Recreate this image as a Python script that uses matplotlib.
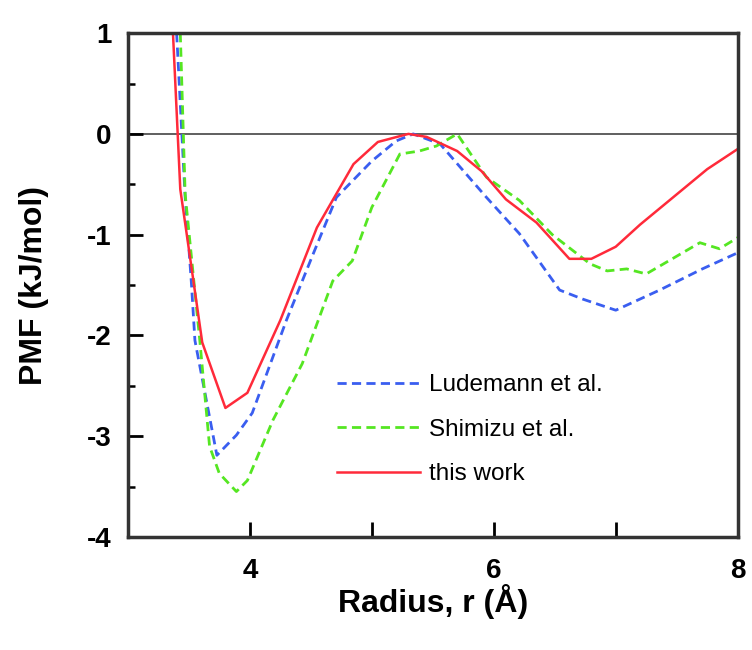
import matplotlib
matplotlib.use("Agg")
import matplotlib.pyplot as plt
from matplotlib.ticker import MultipleLocator, FixedLocator

plt.rcParams['font.family'] = ['Liberation Sans', 'DejaVu Sans']
plt.rcParams['axes.unicode_minus'] = False

# Ludemann et al.
lud_r = [3.40, 3.47, 3.52, 3.55, 3.73, 3.89, 4.02, 4.30, 4.52, 4.71, 5.00, 5.20, 5.34,
         5.56, 5.94, 6.21, 6.54, 6.73, 7.00, 7.36, 7.71, 8.00]
lud_pmf = [1.0, -0.63, -1.46, -2.05, -3.19, -2.99, -2.77, -1.85, -1.19, -0.63, -0.27, -0.07, 0.0,
           -0.10, -0.63, -0.99, -1.55, -1.64, -1.75, -1.55, -1.34, -1.18]

# Shimizu et al.
shi_r = [3.43, 3.47, 3.59, 3.67, 3.75, 3.89, 3.98, 4.19, 4.43, 4.68, 4.84, 5.00, 5.23,
         5.39, 5.53, 5.70, 5.94, 6.21, 6.48, 6.79, 6.93, 7.09, 7.25, 7.69, 7.85, 8.00]
shi_pmf = [1.0, -0.60, -2.05, -3.10, -3.37, -3.55, -3.44, -2.84, -2.28, -1.46, -1.26, -0.73, -0.20,
           -0.17, -0.12, 0.0, -0.43, -0.66, -1.00, -1.29, -1.36, -1.34, -1.39, -1.08, -1.14, -1.03]

# this work
tw_r = [3.37, 3.43, 3.61, 3.80, 3.98, 4.25, 4.55, 4.85, 5.05, 5.30, 5.45, 5.70, 5.90,
        6.10, 6.35, 6.62, 6.80, 7.00, 7.20, 7.45, 7.75, 8.00]
tw_pmf = [1.0, -0.55, -2.07, -2.72, -2.57, -1.85, -0.93, -0.30, -0.08, 0.0, -0.03, -0.17, -0.37,
          -0.65, -0.88, -1.24, -1.24, -1.12, -0.90, -0.65, -0.35, -0.15]

labels = ["Ludemann et al.", "Shimizu et al.", "this work"]

fig = plt.figure(figsize=(7.52, 6.5), dpi=100)
ax = fig.add_axes([0.170, 0.174, 0.811, 0.775])

ax.axhline(0, color='#444444', lw=1.2, zorder=1)
ax.plot(lud_r, lud_pmf, color='#3a5ef0', lw=2, dashes=(3.3, 1.9), label=labels[0])
ax.plot(shi_r, shi_pmf, color='#55e622', lw=2, dashes=(3.3, 1.9), label=labels[1])
ax.plot(tw_r, tw_pmf, color='#ff2a3a', lw=1.8, label=labels[2])

ax.set_xlim(3, 8)
ax.set_ylim(-4, 1)
ax.xaxis.set_major_locator(FixedLocator([4, 6, 8]))
ax.xaxis.set_minor_locator(FixedLocator([5, 7]))
ax.yaxis.set_major_locator(MultipleLocator(1))
ax.yaxis.set_minor_locator(MultipleLocator(0.5))
ax.tick_params(which='major', direction='in', length=11, width=2, labelsize=20)
ax.tick_params(axis='y', which='major', pad=12)
ax.tick_params(axis='x', which='major', pad=15)
ax.tick_params(which='minor', direction='in', length=5, width=1.8)
ax.tick_params(axis='x', which='minor', length=11, width=2)
for lab in ax.get_xticklabels() + ax.get_yticklabels():
    lab.set_fontweight('bold')
for s in ax.spines.values():
    s.set_linewidth(2.5)
    s.set_color('#333333')

ax.set_xlabel("Radius, r (Å)", fontsize=23, fontweight='bold', labelpad=0)
ax.set_ylabel("PMF (kJ/mol)", fontsize=23, fontweight='bold', labelpad=27)

ax.legend(loc='upper left', bbox_to_anchor=(337 / 752, 1 - 374 / 650),
          bbox_transform=fig.transFigure, frameon=False, fontsize=17.5,
          borderpad=0, borderaxespad=0,
          handlelength=3.4, handletextpad=0.4, labelspacing=0.93)

fig.savefig("out.png", dpi=100)
